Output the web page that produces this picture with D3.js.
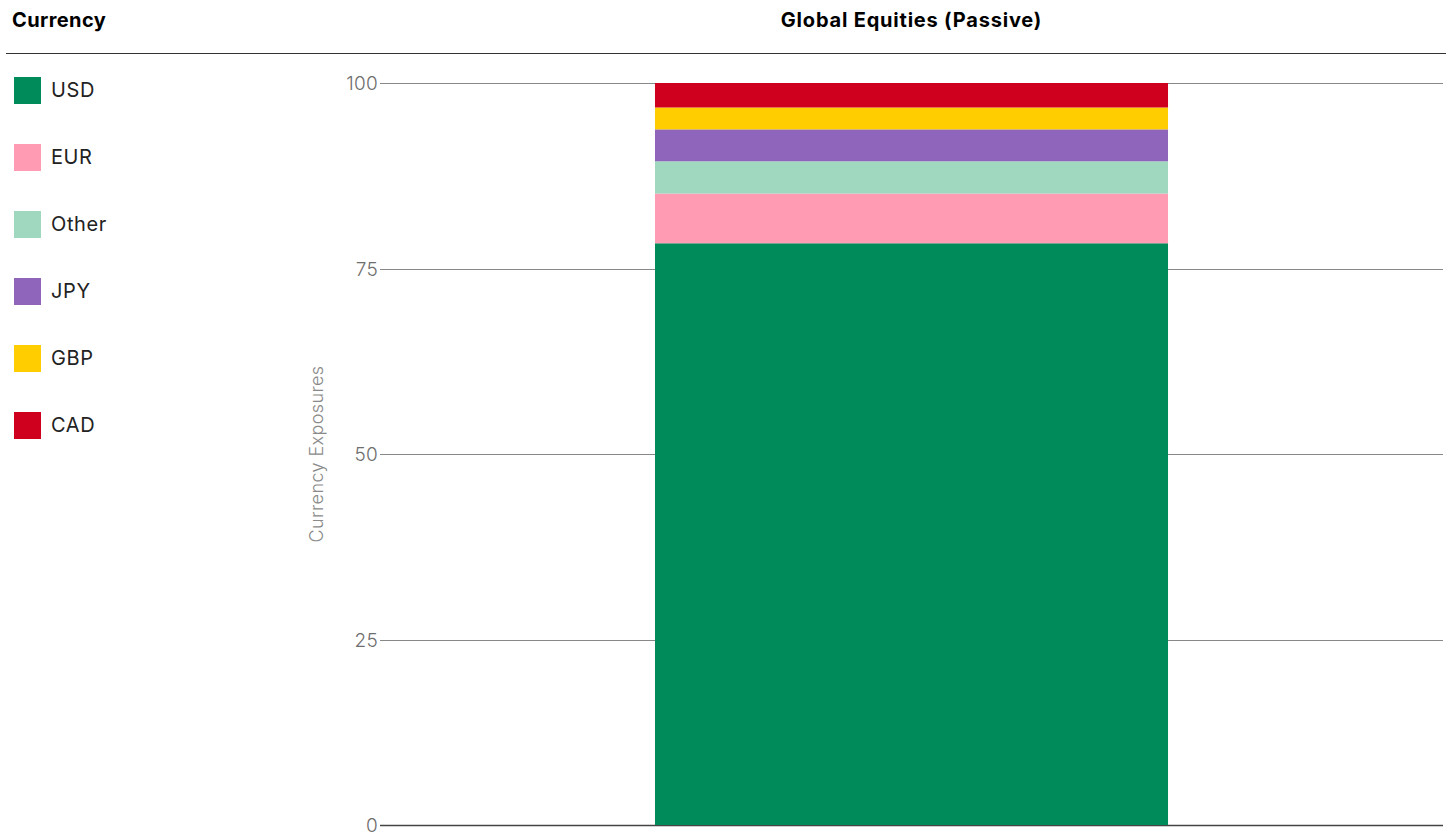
<!DOCTYPE html>
<html>
<head>
<meta charset="utf-8">
<script src="https://cdn.jsdelivr.net/npm/d3@7"></script>
<style>
  body { margin: 0; background: #fff; font-family: Inter, "Noto Sans", sans-serif; }
  svg { display: block; }
</style>
</head>
<body>
<div id="chart"></div>
<script>
// data
const categories = ['Global Equities (Passive)'];
const currencies = ['USD', 'EUR', 'Other', 'JPY', 'GBP', 'CAD'];
const values = [78.4, 6.7, 4.35, 4.3, 2.95, 3.3];
const colors = ['#008b5a', '#ff9cb4', '#9fd7bf', '#8f65bc', '#ffcd00', '#cf001d'];
const yTicks = [0, 25, 50, 75, 100];

const W = 1452, H = 836;
const plot = { left: 380, right: 1443, top: 83, bottom: 825 };

const svg = d3.select('#chart').append('svg')
  .attr('width', W).attr('height', H);

// header
svg.append('text')
  .attr('x', 12).attr('y', 27)
  .attr('font-size', 20).attr('font-weight', 700).attr('fill', '#000')
  .attr('letter-spacing', 0.4)
  .text('Currency');

svg.append('text')
  .attr('x', (plot.left + plot.right) / 2).attr('y', 27)
  .attr('text-anchor', 'middle')
  .attr('font-size', 20).attr('font-weight', 700).attr('fill', '#000')
  .attr('letter-spacing', 0.8)
  .text(categories[0]);

svg.append('line')
  .attr('x1', 6).attr('x2', 1446).attr('y1', 53.5).attr('y2', 53.5)
  .attr('stroke', '#333').attr('stroke-width', 1.2);

// legend
const legend = svg.append('g').selectAll('g')
  .data(currencies)
  .join('g')
  .attr('transform', (d, i) => `translate(14,${77 + i * 67})`);

legend.append('rect')
  .attr('width', 27).attr('height', 27)
  .attr('fill', (d, i) => colors[i]);

legend.append('text')
  .attr('x', 37).attr('y', 20)
  .attr('font-size', 20).attr('font-weight', 400).attr('fill', '#222')
  .attr('letter-spacing', 0.6)
  .text(d => d);

// scales
const x = d3.scaleBand()
  .domain(categories)
  .range([plot.left, plot.right])
  .paddingInner(0).paddingOuter(0.536);

const y = d3.scaleLinear()
  .domain([0, 100])
  .range([plot.bottom, plot.top]);

// grid lines
const grid = svg.append('g');
grid.selectAll('line')
  .data(yTicks)
  .join('line')
  .attr('x1', plot.left).attr('x2', plot.right)
  .attr('y1', d => Math.round(y(d)) + 0.5).attr('y2', d => Math.round(y(d)) + 0.5)
  .attr('stroke', d => d === 0 ? '#444' : '#888')
  .attr('stroke-width', d => d === 0 ? 1.5 : 1);

grid.selectAll('text')
  .data(yTicks)
  .join('text')
  .attr('x', plot.left - 2).attr('y', d => y(d) + 7)
  .attr('text-anchor', 'end')
  .attr('font-size', 19).attr('font-weight', 300).attr('fill', '#6e6e6e')
  .attr('letter-spacing', 0.3)
  .text(d => d);

svg.append('text')
  .attr('transform', `translate(323,${(plot.top + plot.bottom) / 2}) rotate(-90)`)
  .attr('text-anchor', 'middle')
  .attr('font-size', 18).attr('font-weight', 300).attr('fill', '#8a8a8a')
  .attr('letter-spacing', 0.4)
  .text('Currency Exposures');

// stacked bar
const stackData = [Object.fromEntries(currencies.map((c, i) => [c, values[i]]))];
const series = d3.stack().keys(currencies)(stackData);

svg.append('g').selectAll('rect')
  .data(series)
  .join('rect')
  .attr('x', x(categories[0]))
  .attr('width', x.bandwidth())
  .attr('y', d => y(d[0][1]))
  .attr('height', d => y(d[0][0]) - y(d[0][1]))
  .attr('fill', (d, i) => colors[i]);
</script>
</body>
</html>
